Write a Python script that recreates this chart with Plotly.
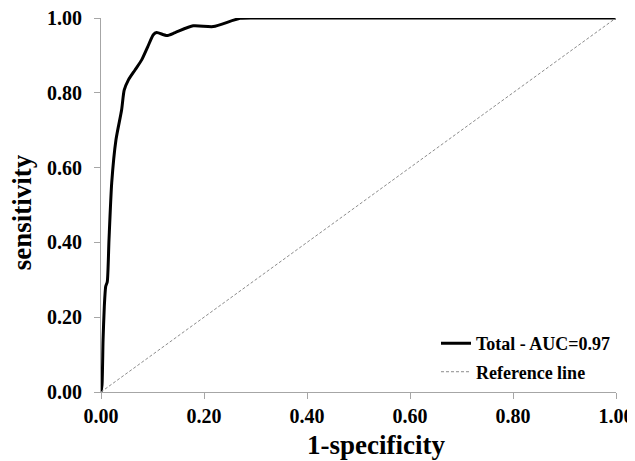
import plotly.graph_objects as go

# ROC curve points
fpr = [0.0, 0.002, 0.004, 0.0064, 0.0091, 0.0122, 0.0155, 0.0208, 0.029, 0.040, 0.045,
       0.053, 0.066, 0.079, 0.0907, 0.1016, 0.108, 0.128, 0.144, 0.179, 0.218, 0.27,
       0.31, 1.0]
tpr = [0.0, 0.02, 0.139, 0.228, 0.282, 0.295, 0.406, 0.559, 0.674, 0.754, 0.807,
       0.834, 0.861, 0.888, 0.923, 0.955, 0.961, 0.953, 0.961, 0.979, 0.977, 0.999,
       1.0, 1.0]
ref_x = [0.0, 1.0]
ref_y = [0.0, 1.0]
tick_vals = [0.0, 0.2, 0.4, 0.6, 0.8, 1.0]
tick_text = ["0.00", "0.20", "0.40", "0.60", "0.80", "1.00"]

FONT = "Liberation Serif"

fig = go.Figure()
fig.add_trace(go.Scatter(
    x=fpr, y=tpr, mode="lines", name="<b>Total - AUC=0.97</b>",
    line=dict(color="black", width=3, shape="spline", smoothing=0.6),
    legendgroup="a"))
fig.add_trace(go.Scatter(
    x=ref_x, y=ref_y, mode="lines", name="<b>Reference line</b>",
    line=dict(color="#8c8c8c", width=1, dash="3px,2px"),
    legendgroup="b"))

axis_common = dict(
    range=[0, 1], tickvals=tick_vals, ticktext=["<b>%s</b>" % t for t in tick_text],
    showgrid=False, zeroline=False, showline=True, linecolor="#a6a6a6", linewidth=1,
    ticks="outside", ticklen=6, tickcolor="#a6a6a6", tickwidth=1,
    tickfont=dict(family=FONT, size=20, color="black"), automargin=False,
    ticklabeloverflow="allow",
)

# the page body adds an 8px offset, so the figure is sized/margined to compensate
fig.update_layout(
    width=627, height=453,
    margin=dict(l=93, r=19, t=10, b=69),
    plot_bgcolor="white", paper_bgcolor="white",
    font=dict(family=FONT, color="black"),
    xaxis=dict(**axis_common),
    yaxis=dict(**axis_common, ticklabelstandoff=8),
    legend=dict(x=1.0, xanchor="right", y=0.005, yanchor="bottom",
                font=dict(family=FONT, size=18, color="black"),
                bgcolor="rgba(0,0,0,0)", tracegroupgap=2, itemwidth=30),
    showlegend=True,
    annotations=[
        dict(text="<b>1-specificity</b>", xref="paper", yref="paper",
             x=0.534, y=-0.142, xanchor="center", yanchor="middle", showarrow=False,
             font=dict(family=FONT, size=27, color="black")),
        dict(text="<b>sensitivity</b>", xref="paper", yref="paper",
             x=-0.153, y=0.481, xanchor="center", yanchor="middle", showarrow=False,
             textangle=-90, font=dict(family=FONT, size=27, color="black")),
    ],
)

fig.write_html("out.html")
